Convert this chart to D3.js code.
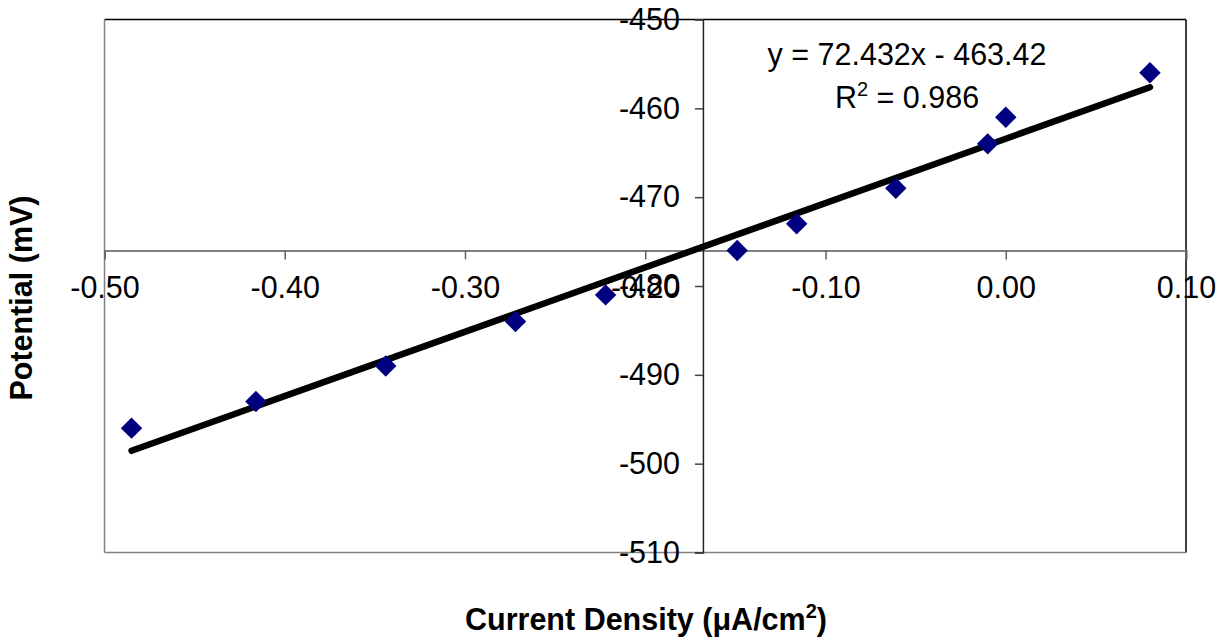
<!DOCTYPE html>
<html><head><meta charset="utf-8">
<script src="https://cdn.jsdelivr.net/npm/d3@7"></script>
<style>body{margin:0;background:#fff}text{font-family:Arial,"Liberation Sans",sans-serif}</style>
</head><body><svg id="c" width="1229" height="644"></svg>
<script>
const currentDensity = [-0.485, -0.416, -0.344, -0.272, -0.222, -0.149, -0.116, -0.061, -0.010, 0.000, 0.080];
const potential = [-496, -493, -489, -484, -481, -476, -473, -469, -464, -461, -456];
const xTicks = [-0.5, -0.4, -0.3, -0.2, -0.1, 0.0, 0.1];
const yTicks = [-450, -460, -470, -480, -490, -500, -510];
const slope = 72.432, intercept = -463.42;
const xCross = -0.168, yCross = -476;

const svg = d3.select("#c");
const L = 104.5, R = 1186, T = 19.5, B = 552.5;
const x = d3.scaleLinear().domain([-0.5, 0.1]).range([L, R]);
const y = d3.scaleLinear().domain([-510, -450]).range([B, T]);
const fs = 30.5;
const hy = s => s.replace("\u2212", "-");

// plot border
svg.append("line").attr("x1",L).attr("x2",R).attr("y1",T).attr("y2",T).attr("stroke","#000").attr("stroke-width",1.5);
svg.append("line").attr("x1",R).attr("x2",R).attr("y1",T).attr("y2",B).attr("stroke","#000").attr("stroke-width",1.5);
svg.append("line").attr("x1",L).attr("x2",L).attr("y1",T).attr("y2",B).attr("stroke","#808080").attr("stroke-width",1.5);
svg.append("line").attr("x1",L).attr("x2",R).attr("y1",B).attr("y2",B).attr("stroke","#808080").attr("stroke-width",1.5);

// x axis
const fx = d3.format(".2f");
const xg = svg.append("g").attr("transform",`translate(0,${y(yCross)})`)
  .call(d3.axisBottom(x).tickValues(xTicks).tickFormat(d => hy(fx(d))).tickSize(9).tickPadding(17));
xg.select(".domain").attr("stroke","#808080").attr("stroke-width",2);
xg.selectAll(".tick line").attr("stroke","#606060").attr("stroke-width",1.5);
xg.selectAll("text").attr("font-size",fs).attr("fill","#000").attr("font-family","Arial, 'Liberation Sans', sans-serif");

// y axis
const fy = d3.format("d");
const yg = svg.append("g").attr("transform",`translate(${x(xCross)},0)`)
  .call(d3.axisLeft(y).tickValues(yTicks).tickFormat(d => hy(fy(d))).tickSize(8).tickPadding(15));
yg.select(".domain").attr("stroke","#222").attr("stroke-width",1.5);
yg.selectAll(".tick line").attr("stroke","#444").attr("stroke-width",1.5);
yg.selectAll("text").attr("font-size",fs).attr("fill","#000").attr("font-family","Arial, 'Liberation Sans', sans-serif");

// trendline
const xr = d3.extent(currentDensity);
svg.append("path").datum(xr.map(v=>[v, slope*v+intercept]))
  .attr("d", d3.line().x(d=>x(d[0])).y(d=>y(d[1])))
  .attr("stroke","#000").attr("stroke-width",6.5).attr("stroke-linecap","round").attr("fill","none");

// points
svg.append("g").selectAll("path").data(currentDensity.map((v,i)=>[v,potential[i]])).join("path")
  .attr("transform", d=>`translate(${x(d[0])},${y(d[1])}) rotate(45)`)
  .attr("d", d3.symbol().type(d3.symbolSquare).size(230)())
  .attr("fill","#000080");

// equation
svg.append("text").attr("x",907).attr("y",65).attr("text-anchor","middle").attr("font-size",fs).text("y = 72.432x - 463.42");
const r2 = svg.append("text").attr("x",907).attr("y",108).attr("text-anchor","middle").attr("font-size",fs);
r2.append("tspan").text("R");
r2.append("tspan").attr("font-size",20).attr("dy",-12).text("2");
r2.append("tspan").attr("dy",12).text(" = 0.986");

// axis titles
svg.append("text").attr("transform","translate(32,298) rotate(-90)").attr("text-anchor","middle")
  .attr("font-size",fs).attr("font-weight","bold").text("Potential (mV)");
const xt = svg.append("text").attr("x",646).attr("y",630).attr("text-anchor","middle").attr("font-size",fs).attr("font-weight","bold");
xt.append("tspan").text("Current Density (\u03BCA/cm");
xt.append("tspan").attr("font-size",20).attr("dy",-12).text("2");
xt.append("tspan").attr("dy",12).text(")");
</script></body></html>
